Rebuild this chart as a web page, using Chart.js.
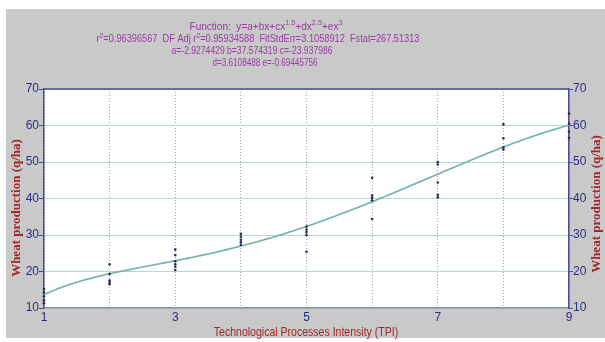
<!DOCTYPE html>
<html>
<head>
<meta charset="utf-8">
<style>
  html, body { margin: 0; padding: 0; background: #ffffff; }
  #c { display: block; }
</style>
<script src="https://cdn.jsdelivr.net/npm/chart.js@4/dist/chart.umd.min.js"></script>
</head>
<body>
<canvas id="c" width="605" height="342"></canvas>
<script>
// Observed wheat production at each TPI level
const tpiLevels = [1, 2, 3, 4, 5, 6, 7, 8, 9];
const wheatYield = [
  [15.2, 14.3, 13.2, 12.1, 11.3],
  [22.0, 19.3, 17.5, 17.0, 16.5],
  [26.0, 24.5, 22.8, 22.0, 21.3, 20.4],
  [30.3, 29.5, 28.7, 28.0, 27.3],
  [32.3, 31.5, 30.8, 30.0, 25.4],
  [45.7, 40.8, 40.2, 39.5, 34.4],
  [50.0, 49.3, 44.4, 41.0, 40.3],
  [60.3, 56.5, 54.0, 53.4],
  [63.3, 60.5, 58.3, 56.6]
];

// Fitted model y = a + b x + c x^1.5 + d x^2.5 + e x^3
const fitCoefficients = [-2.9274429, 37.574319, -23.937986, 3.6108488, -0.69445756];
const fitExponents = [0, 1, 1.5, 2.5, 3];

const xTicks = [1, 3, 5, 7, 9];
const yTicks = [10, 20, 30, 40, 50, 60, 70];

const titleLines = [
  [["Function:  y=a+bx+cx"], ["1.5", true], ["+dx"], ["2.5", true], ["+ex"], ["3", true]],
  [["r"], ["2", true], ["=0.96396567  DF Adj r"], ["2", true], ["=0.95934588  FitStdErr=3.1058912  Fstat=267.51313"]],
  [["a=-2.9274429 b=37.574319 c=-23.937986"]],
  [["d=3.6108488 e=-0.69445756"]]
];
const xTitle = "Technological Processes Intensity (TPI)";
const yTitle = "Wheat production (q/ha)";

// Build the scatter points and the fitted curve samples
const scatterPoints = [];
tpiLevels.forEach((x, i) => wheatYield[i].forEach(y => scatterPoints.push({ x, y })));

const fitAt = x => fitCoefficients.reduce((s, c, k) => s + c * Math.pow(x, fitExponents[k]), 0);
const curvePoints = [];
for (let k = 0; k <= 160; k++) {
  const x = 1 + k * 0.05;
  curvePoints.push({ x, y: fitAt(x) });
}

const NAVY = '#2b2b88';
const RED = '#a02828';
const PURPLE = '#9a3aa6';

// Draws a line of text with superscript runs, squeezed to a given width
function drawRich(ctx, segs, cx, baseline, size, width) {
  const supSize = Math.round(size * 0.72);
  let total = 0;
  const widths = segs.map(([t, sup]) => {
    ctx.font = (sup ? supSize : size) + "px 'Liberation Sans', Arial, sans-serif";
    const w = ctx.measureText(t).width;
    total += w;
    return w;
  });
  ctx.save();
  ctx.translate(cx, baseline);
  ctx.scale(width / total, 1);
  let x = -total / 2;
  segs.forEach(([t, sup], i) => {
    ctx.font = (sup ? supSize : size) + "px 'Liberation Sans', Arial, sans-serif";
    ctx.textAlign = 'left';
    ctx.textBaseline = 'alphabetic';
    ctx.fillText(t, x, sup ? -4.5 : 0);
    x += widths[i];
  });
  ctx.restore();
}

const framePlugin = {
  id: 'frame',
  beforeDraw(chart) {
    const ctx = chart.ctx;
    const a = chart.chartArea;
    ctx.save();
    ctx.fillStyle = '#ffffff';
    ctx.fillRect(0, 0, chart.width, chart.height);
    ctx.fillStyle = '#c9c9c9';
    ctx.fillRect(6, 9, chart.width - 6, chart.height - 13);
    ctx.fillStyle = '#ffffff';
    ctx.fillRect(a.left, a.top, a.right - a.left, a.bottom - a.top);
    ctx.restore();
  },
  afterDraw(chart) {
    const ctx = chart.ctx;
    const a = chart.chartArea;
    ctx.save();
    // top frame line
    ctx.strokeStyle = '#4a4a96';
    ctx.lineWidth = 1.5;
    ctx.beginPath();
    ctx.moveTo(a.left, a.top);
    ctx.lineTo(a.right, a.top);
    ctx.stroke();

    // heading block
    ctx.fillStyle = PURPLE;
    const rows = [[266, 29.5, 153], [258, 42, 323], [252, 53.5, 161], [265, 65.5, 105]];
    titleLines.forEach((segs, i) => drawRich(ctx, segs, rows[i][0], rows[i][1], 11, rows[i][2]));

    // x axis title
    ctx.fillStyle = RED;
    ctx.save();
    ctx.translate(306, 336);
    ctx.scale(0.81, 1);
    ctx.font = "13px 'Liberation Sans', Arial, sans-serif";
    ctx.textAlign = 'center';
    ctx.textBaseline = 'alphabetic';
    ctx.fillText(xTitle, 0, 0);
    ctx.restore();

    // y axis titles, left and right
    ctx.font = "bold 13px 'Liberation Serif', 'Times New Roman', serif";
    ctx.textAlign = 'center';
    ctx.textBaseline = 'middle';
    [[17, 208], [597, 204]].forEach(([x, y]) => {
      ctx.save();
      ctx.translate(x, y);
      ctx.rotate(-Math.PI / 2);
      ctx.fillText(yTitle, 0, 0);
      ctx.restore();
    });
    ctx.restore();
  }
};

const tickFont = { family: "'Liberation Sans', Arial, sans-serif", size: 12 };

new Chart(document.getElementById('c'), {
  type: 'scatter',
  data: {
    datasets: [
      {
        label: 'Fit',
        data: curvePoints,
        showLine: true,
        borderColor: '#6fb0b2',
        borderWidth: 1.6,
        pointRadius: 0,
        tension: 0,
        order: 2
      },
      {
        label: 'Observed',
        data: scatterPoints,
        showLine: false,
        pointRadius: 1.3,
        pointBackgroundColor: '#2a2a55',
        pointBorderWidth: 0,
        clip: false,
        order: 1
      }
    ]
  },
  options: {
    responsive: false,
    animation: false,
    devicePixelRatio: 1,
    layout: { padding: { top: 89, left: 0, right: 0, bottom: 0 } },
    plugins: { legend: { display: false }, tooltip: { enabled: false } },
    scales: {
      x: {
        type: 'linear',
        min: 1,
        max: 9,
        afterFit(s) { s.height = 34; },
        afterBuildTicks(s) { s.ticks = tpiLevels.map(v => ({ value: v })); },
        ticks: {
          color: NAVY,
          font: tickFont,
          padding: 2,
          maxRotation: 0,
          autoSkip: false,
          callback: v => (xTicks.includes(v) ? String(v) : '')
        },
        grid: { color: '#8ea6c6', lineWidth: 1, drawTicks: false },
        border: { display: true, color: '#8a8aa8', width: 1.5, dash: [1, 2] }
      },
      y: {
        position: 'left',
        min: 10,
        max: 70,
        afterFit(s) { s.width = 44; },
        afterBuildTicks(s) { s.ticks = yTicks.map(v => ({ value: v })); },
        ticks: { color: NAVY, font: tickFont, padding: 0 },
        grid: { color: '#b4d9cc', lineWidth: 1, tickColor: '#4a4a96', tickLength: 5 },
        border: { display: true, color: '#4a4a96', width: 1.5 }
      },
      y2: {
        position: 'right',
        min: 10,
        max: 70,
        afterFit(s) { s.width = 36; },
        afterBuildTicks(s) { s.ticks = yTicks.map(v => ({ value: v })); },
        ticks: { color: NAVY, font: tickFont, padding: 0 },
        grid: { drawOnChartArea: false, tickColor: '#4a4a96', tickLength: 4 },
        border: { display: true, color: '#4a4a96', width: 1.5 }
      }
    }
  },
  plugins: [framePlugin]
});
</script>
</body>
</html>
